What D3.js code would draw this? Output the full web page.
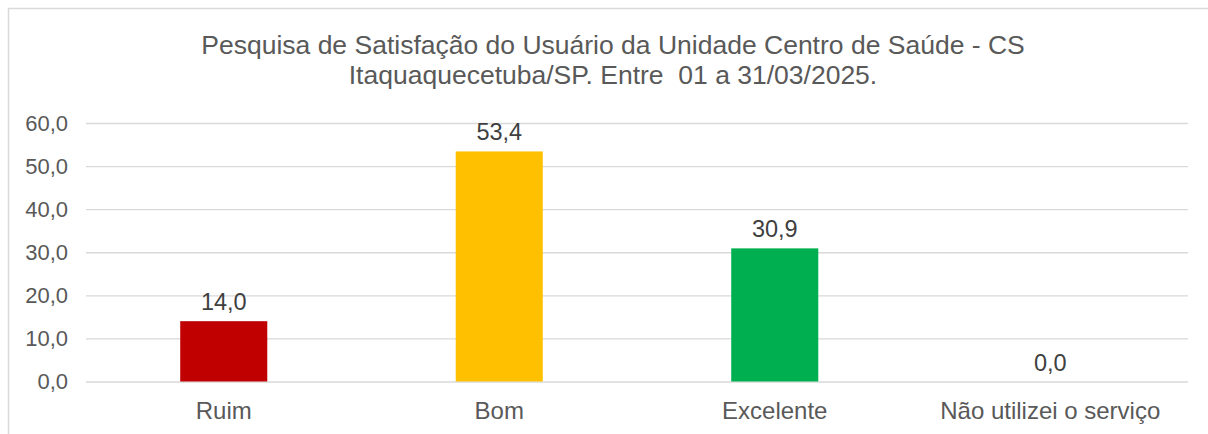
<!DOCTYPE html>
<html>
<head>
<meta charset="utf-8">
<script src="https://cdn.jsdelivr.net/npm/d3@7"></script>
<style>
  body { margin: 0; background: #fff; }
  svg { display: block; font-family: "Liberation Sans", Arial, sans-serif; }
</style>
</head>
<body>
<div class="chart"></div>
<script>
// data
const categories = ["Ruim", "Bom", "Excelente", "Não utilizei o serviço"]
const values = [14.0, 53.4, 30.9, 0.0]
const barColors = ["#C00000", "#FFC000", "#00B050", "#A5A5A5"]
const yTicks = [0, 10, 20, 30, 40, 50, 60]
const titleLines = [
  "Pesquisa de Satisfação do Usuário da Unidade Centro de Saúde - CS",
  "Itaquaquecetuba/SP. Entre\u00a0 01 a 31/03/2025."
]

const width = 1208
const height = 434
const margin = {top: 123, right: 20, bottom: 52.5, left: 86}

const fmt = d => d.toFixed(1).replace(".", ",")

const svg = d3.select(".chart")
  .append("svg")
    .attr("width", width)
    .attr("height", height)

// chart border
svg.append("rect")
  .attr("x", 8.5)
  .attr("y", 8.5)
  .attr("width", width + 10)
  .attr("height", height + 10)
  .attr("fill", "none")
  .attr("stroke", "#d9d9d9")
  .attr("stroke-width", 1.5)

const x = d3.scaleBand()
  .domain(categories)
  .range([margin.left, width - margin.right])
  .paddingInner(0.684)
  .paddingOuter(0.342)

const y = d3.scaleLinear()
  .domain([0, 60])
  .range([height - margin.bottom, margin.top])

// title
svg.append("text")
  .attr("x", 613)
  .attr("y", 54)
  .attr("text-anchor", "middle")
  .attr("fill", "#595959")
  .style("font-size", "26.5px")
  .selectAll("tspan")
  .data(titleLines)
  .join("tspan")
    .attr("x", 613)
    .attr("dy", (d, i) => i === 0 ? 0 : 29.5)
    .text(d => d)

// gridlines + y labels
const yAxis = svg.append("g")
  .attr("transform", `translate(${margin.left},0)`)
  .call(d3.axisLeft(y)
    .tickValues(yTicks)
    .tickFormat(fmt)
    .tickSize(-(width - margin.left - margin.right))
    .tickPadding(18))
yAxis.select(".domain").remove()
yAxis.selectAll(".tick line")
  .attr("stroke", "#d9d9d9")
  .attr("stroke-width", 1.3)
yAxis.selectAll(".tick text")
  .attr("fill", "#595959")
  .attr("dy", "0.34em")
  .style("font-size", "22px")
  .style("font-family", "'Liberation Sans', Arial, sans-serif")

// x labels
const xAxis = svg.append("g")
  .attr("transform", `translate(0,${y(0)})`)
  .call(d3.axisBottom(x).tickSize(0).tickPadding(20.5))
xAxis.select(".domain").remove()
xAxis.selectAll(".tick text")
  .attr("fill", "#595959")
  .style("font-size", "24px")
  .style("font-family", "'Liberation Sans', Arial, sans-serif")

// bars
svg.selectAll("rect.bar")
  .data(values)
  .join("rect")
    .attr("class", "bar")
    .attr("x", (d, i) => x(categories[i]))
    .attr("y", d => y(d))
    .attr("width", x.bandwidth())
    .attr("height", d => y(0) - y(d))
    .attr("fill", (d, i) => barColors[i])

// data labels
svg.selectAll("text.label")
  .data(values)
  .join("text")
    .attr("class", "label")
    .attr("x", (d, i) => x(categories[i]) + x.bandwidth() / 2)
    .attr("y", d => y(d) - 11)
    .attr("text-anchor", "middle")
    .attr("fill", "#404040")
    .style("font-size", "23.5px")
    .text(fmt)
</script>
</body>
</html>
